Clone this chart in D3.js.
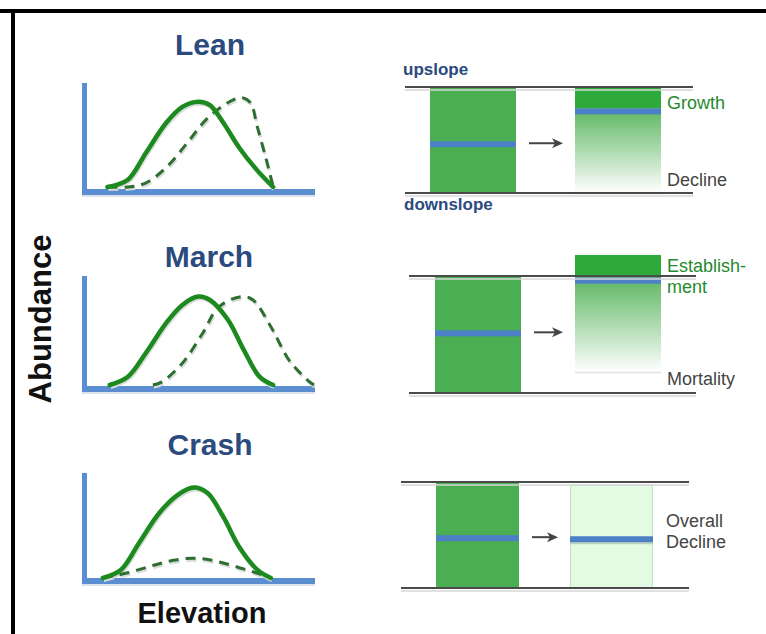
<!DOCTYPE html>
<html><head><meta charset="utf-8">
<script src="https://cdn.jsdelivr.net/npm/d3@7"></script>
<style>body{margin:0;background:#fff}svg{display:block}text{font-family:"Liberation Sans",Arial,sans-serif}</style>
</head><body>
<script>
// ---------- data ----------
const scenarios = ["Lean", "March", "Crash"];
// left: abundance vs elevation (elevation 0-100, abundance 0-100)
const leanSolidX  = [9, 18, 26, 35, 42, 49, 54, 60, 67, 75, 82];
const leanSolidY  = [0, 7, 33, 62, 77, 82, 79, 62, 38, 16, 0];
const leanDashX   = [9, 18, 26, 35, 44, 53, 62, 68, 72, 75, 79, 82];
const leanDashY   = [0, 0, 4, 19, 42, 66, 81, 86, 81, 58, 26, 0];
const marchSolidX = [10, 18, 26, 35, 42, 49, 54, 62, 69, 76, 82];
const marchSolidY = [0, 8, 31, 60, 77, 85, 82, 63, 34, 8, 0];
const marchDashX  = [29, 33, 42, 51, 58, 68, 73, 81, 89, 97, 100];
const marchDashY  = [0, 3, 21, 50, 75, 85, 82, 56, 24, 5, 0];
const crashSolidX = [7, 15, 23, 32, 40, 47, 53, 60, 67, 75, 81];
const crashSolidY = [0, 8, 34, 63, 80, 87, 82, 59, 30, 8, 0];
const crashDashX  = [7, 18, 29, 38, 47, 55, 64, 73, 81];
const crashDashY  = [0, 5, 12, 17, 19, 17, 12, 6, 0];
// right: elevational range (0 = downslope, 100 = upslope) before / after
const beforeLow  = [0, 0, 0];
const beforeHigh = [100, 100, 100];
const beforeMean = [46, 51, 47];
const afterLow   = [0, 18, 0];
const afterHigh  = [100, 118, 97];
const afterMean  = [77, 96, 46];
const afterSolidBand = [80, 99, null];
const upperLabels = [["Growth"], ["Establish-", "ment"], []];
const lowerLabels = [["Decline"], ["Mortality"], ["Overall", "Decline"]];

// ---------- layout ----------
const W = 766, H = 634;
const svg = d3.select("body").append("svg").attr("width", W).attr("height", H);
const BLUE = "#5a8ed1", DKBLUE = "#2b4a7e", GREEN = "#1c8a1f", DGREEN = "#2e6f31", BARG = "#4cae52";

// frame (top & left)
svg.append("rect").attr("x", 0).attr("y", 9).attr("width", W).attr("height", 4).attr("fill", "#000");
svg.append("rect").attr("x", 11).attr("y", 9).attr("width", 4).attr("height", H).attr("fill", "#000");

const defs = svg.append("defs");
const grad = defs.append("linearGradient").attr("id", "fade").attr("x1", 0).attr("y1", 0).attr("x2", 0).attr("y2", 1);
grad.append("stop").attr("offset", "0%").attr("stop-color", "#5cb660");
grad.append("stop").attr("offset", "100%").attr("stop-color", "#ffffff");

const leftPanels = [
  { title: "Lean",  titleX: 210, titleY: 55,  axisTop: 83,  base: 187, axisY: 192, sx: leanSolidX, sy: leanSolidY, dx: leanDashX, dy: leanDashY },
  { title: "March", titleX: 209, titleY: 267, axisTop: 276, base: 385, axisY: 389, sx: marchSolidX, sy: marchSolidY, dx: marchDashX, dy: marchDashY },
  { title: "Crash", titleX: 210, titleY: 455, axisTop: 473, base: 578, axisY: 581, sx: crashSolidX, sy: crashSolidY, dx: crashDashX, dy: crashDashY }
];

leftPanels.forEach(p => {
  const x = d3.scaleLinear().domain([0, 100]).range([87, 314]);
  const y = d3.scaleLinear().domain([0, 100]).range([p.base, p.base - 104]);
  const g = svg.append("g");
  g.append("text").attr("x", p.titleX).attr("y", p.titleY).attr("text-anchor", "middle")
    .attr("font-size", 30).attr("font-weight", "bold").attr("fill", DKBLUE).text(p.title);
  // axes
  g.append("line").attr("x1", 84.5).attr("x2", 84.5).attr("y1", p.axisTop).attr("y2", p.axisY + 3)
    .attr("stroke", BLUE).attr("stroke-width", 5);
  g.append("line").attr("x1", 82).attr("x2", 315).attr("y1", p.axisY + 4).attr("y2", p.axisY + 4)
    .attr("stroke", "#dde3ea").attr("stroke-width", 2);
  g.append("line").attr("x1", 82).attr("x2", 315).attr("y1", p.axisY).attr("y2", p.axisY)
    .attr("stroke", BLUE).attr("stroke-width", 6);
  const line = d3.line().x(d => x(d[0])).y(d => y(d[1])).curve(d3.curveCatmullRom.alpha(0.5));
  const solid = p.sx.map((v, i) => [v, p.sy[i]]);
  const dash = p.dx.map((v, i) => [v, p.dy[i]]);
  // shadows
  g.append("path").attr("d", line(dash)).attr("transform", "translate(1,2)").attr("fill", "none")
    .attr("stroke", "#d8dcd8").attr("stroke-width", 3).attr("stroke-dasharray", "10,7");
  g.append("path").attr("d", line(solid)).attr("transform", "translate(1,2)").attr("fill", "none")
    .attr("stroke", "#d8dcd8").attr("stroke-width", 4);
  g.append("path").attr("d", line(dash)).attr("fill", "none")
    .attr("stroke", DGREEN).attr("stroke-width", 3).attr("stroke-dasharray", "10,7");
  g.append("path").attr("d", line(solid)).attr("fill", "none")
    .attr("stroke", GREEN).attr("stroke-width", 4.5).attr("stroke-linecap", "round");
});

// axis titles
svg.append("text").attr("transform", "translate(51,319) rotate(-90)").attr("text-anchor", "middle")
  .attr("font-size", 31).attr("font-weight", "bold").attr("fill", "#111").text("Abundance");
svg.append("text").attr("x", 202).attr("y", 623).attr("text-anchor", "middle")
  .attr("font-size", 29).attr("font-weight", "bold").attr("fill", "#111").text("Elevation");

// right panels
const rightPanels = [
  { top: 87,  bottom: 193, lx0: 405, lx1: 693, bx0: 430, bx1: 661, labX: 667 },
  { top: 276, bottom: 393, lx0: 409, lx1: 696, bx0: 435, bx1: 661, labX: 667 },
  { top: 482, bottom: 588, lx0: 401, lx1: 689, bx0: 436, bx1: 653, labX: 666 }
];
const upperY = [[109], [272, 293], []];
const lowerY = [[186], [385], [527, 548]];

rightPanels.forEach((p, i) => {
  const y = d3.scaleLinear().domain([0, 100]).range([p.bottom, p.top]);
  const bw = i === 2 ? 83 : 86;
  const step = p.bx1 - p.bx0 - bw;
  const x = d3.scaleBand().domain(["before", "after"]).range([p.bx0, p.bx1])
    .paddingInner(1 - bw / (p.bx1 - p.bx0 - bw)).paddingOuter(0);
  const g = svg.append("g");
  // before bar
  g.append("rect").attr("x", x("before")).attr("width", x.bandwidth())
    .attr("y", y(beforeHigh[i])).attr("height", y(beforeLow[i]) - y(beforeHigh[i])).attr("fill", BARG);
  g.append("rect").attr("x", x("before")).attr("width", x.bandwidth())
    .attr("y", y(beforeMean[i]) - 3).attr("height", 6).attr("fill", "#4d80c6");
  // after bar
  const ax = x("after"), aw = x.bandwidth();
  if (afterSolidBand[i] !== null) {
    g.append("rect").attr("x", ax).attr("width", aw).attr("y", y(afterSolidBand[i]))
      .attr("height", y(afterLow[i]) - y(afterSolidBand[i])).attr("fill", "url(#fade)");
    g.append("line").attr("x1", ax).attr("x2", ax + aw).attr("y1", y(afterLow[i]) + 0.5).attr("y2", y(afterLow[i]) + 0.5)
      .attr("stroke", "#dfe3e6").attr("stroke-width", 1.5);
    g.append("rect").attr("x", ax).attr("width", aw).attr("y", y(afterHigh[i]))
      .attr("height", y(afterSolidBand[i]) - y(afterHigh[i])).attr("fill", "#2eaa3a");
  } else {
    g.append("rect").attr("x", ax + 0.5).attr("width", aw - 1).attr("y", y(afterHigh[i]))
      .attr("height", y(afterLow[i]) - y(afterHigh[i])).attr("fill", "#e2fbe2").attr("stroke", "#bfe0c2");
    g.append("rect").attr("x", ax).attr("width", aw).attr("y", y(afterMean[i]) + 3).attr("height", 2).attr("fill", "#b9cfb9");
  }
  g.append("rect").attr("x", ax).attr("width", aw).attr("y", y(afterMean[i]) - 3).attr("height", 6).attr("fill", "#4d80c6");
  // boundary lines
  [p.top, p.bottom].forEach(ly => {
    g.append("line").attr("x1", p.lx0).attr("x2", p.lx1).attr("y1", ly + 3).attr("y2", ly + 3)
      .attr("stroke", "#d6d6d6").attr("stroke-width", 1.5);
    g.append("line").attr("x1", p.lx0).attr("x2", p.lx1).attr("y1", ly).attr("y2", ly)
      .attr("stroke", "#4a4a4a").attr("stroke-width", 2);
  });
  // arrow
  const arrowY = y(beforeMean[i]) - 1;
  const a0 = x("before") + x.bandwidth() + 13, a1 = ax - 12;
  g.append("line").attr("x1", a0).attr("x2", a1 - 8).attr("y1", arrowY).attr("y2", arrowY)
    .attr("stroke", "#444").attr("stroke-width", 2);
  g.append("path").attr("d", `M${a1},${arrowY} L${a1 - 11},${arrowY - 5} L${a1 - 8},${arrowY} L${a1 - 11},${arrowY + 5} Z`)
    .attr("fill", "#444");
  // labels
  upperLabels[i].forEach((t, k) => g.append("text").attr("x", p.labX).attr("y", upperY[i][k])
    .attr("font-size", 18).attr("fill", "#1f8a2e").text(t));
  lowerLabels[i].forEach((t, k) => g.append("text").attr("x", p.labX).attr("y", lowerY[i][k])
    .attr("font-size", 18).attr("fill", "#444").text(t));
});

svg.append("text").attr("x", 403).attr("y", 75).attr("font-size", 17).attr("font-weight", "bold")
  .attr("fill", DKBLUE).text("upslope");
svg.append("text").attr("x", 404).attr("y", 210).attr("font-size", 17).attr("font-weight", "bold")
  .attr("fill", DKBLUE).text("downslope");
</script>
</body></html>
